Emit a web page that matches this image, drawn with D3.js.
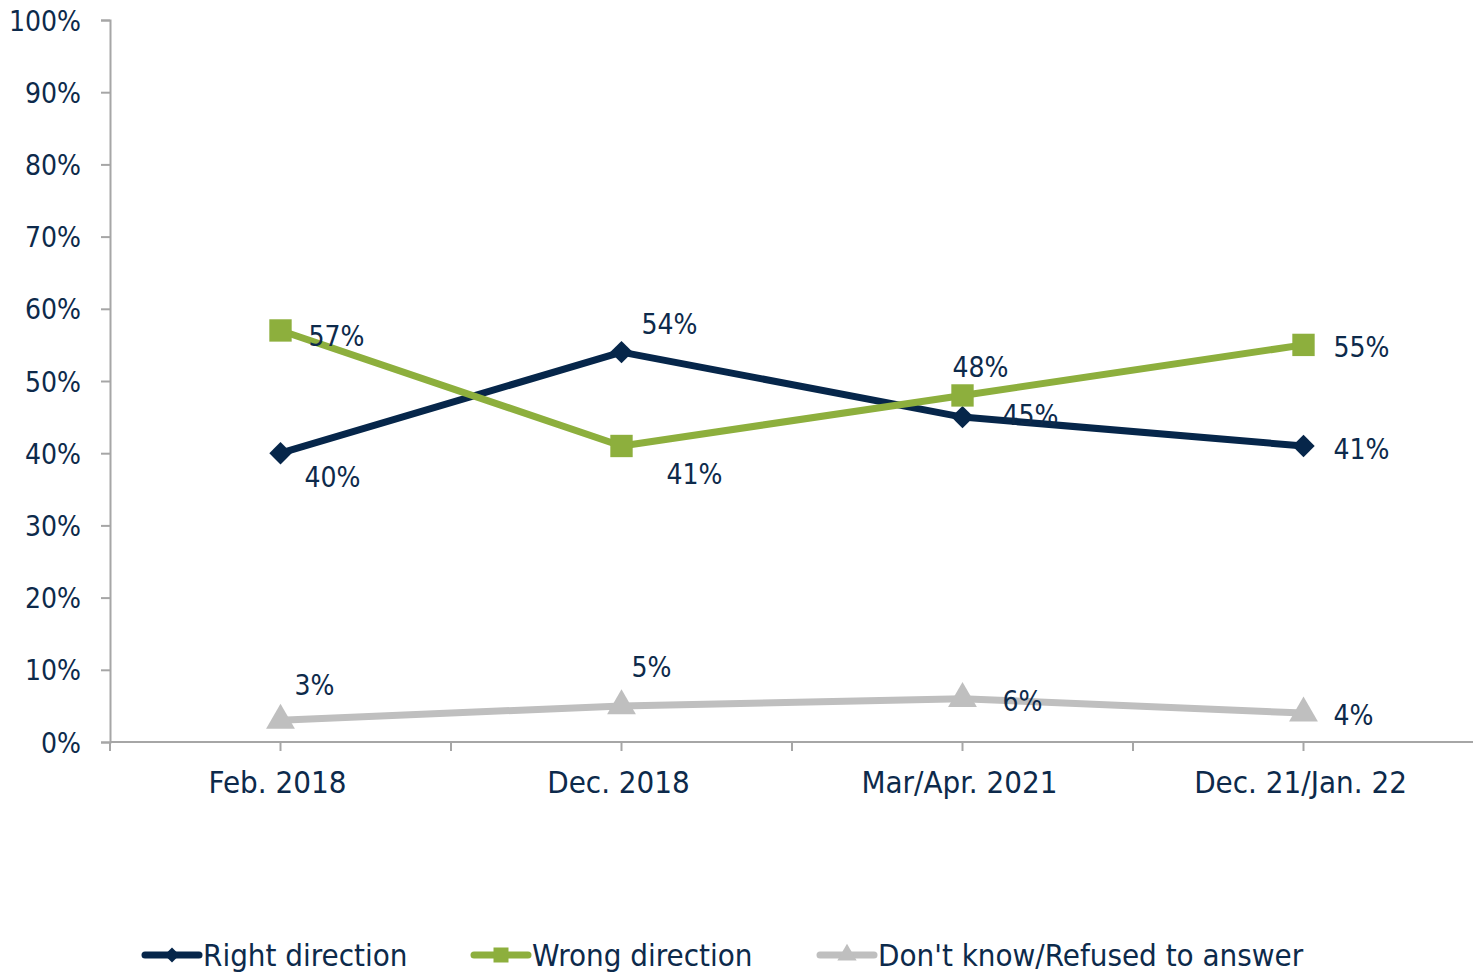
<!DOCTYPE html>
<html><head><meta charset="utf-8">
<script src="https://cdn.jsdelivr.net/npm/d3@7"></script>
<style>
body{margin:0;background:#fff;}
text{font-family:"DejaVu Sans Condensed","DejaVu Sans",sans-serif;fill:#0d2a4b;}
</style></head>
<body><svg id="c" width="1473" height="973"></svg>
<script>
const categories = ["Feb. 2018","Dec. 2018","Mar/Apr. 2021","Dec. 21/Jan. 22"];
const rightDirection = [40,54,45,41];
const wrongDirection = [57,41,48,55];
const dontKnow = [3,5,6,4];
const yTicks = [0,10,20,30,40,50,60,70,80,90,100];
const seriesNames = ["Right direction","Wrong direction","Don't know/Refused to answer"];

const svg = d3.select("#c");
const mLeft=110, mRight=1474, mTop=20, mBottom=742;
const x = d3.scaleBand().domain(categories).range([mLeft,mRight]);
const y = d3.scaleLinear().domain([0,100]).range([mBottom,mTop]);
const axisColor="#a6a6a6";
const fs=28;
const fsBig=31;

// y axis
const ya = svg.append("g").attr("transform",`translate(${mLeft},0)`)
  .call(d3.axisLeft(y).tickValues(yTicks).tickSize(9).tickPadding(20).tickFormat(d=>d+"%"));
ya.select(".domain").attr("stroke",axisColor).attr("stroke-width",2);
ya.selectAll(".tick line").attr("stroke",axisColor).attr("stroke-width",2);
ya.selectAll("text").attr("font-size",fs).attr("fill","#0d2a4b").attr("dy","0.36em").attr("font-family",null);

// x axis line
svg.append("line").attr("x1",mLeft).attr("x2",mRight).attr("y1",mBottom).attr("y2",mBottom).attr("stroke",axisColor).attr("stroke-width",2);
const half = x.bandwidth()/2;
const xTickPos = d3.range(0,categories.length*2+1).map(i=>mLeft+i*half);
svg.selectAll(".xt").data(xTickPos).enter().append("line")
  .attr("x1",d=>d).attr("x2",d=>d).attr("y1",mBottom).attr("y2",mBottom+9)
  .attr("stroke",axisColor).attr("stroke-width",2);
svg.selectAll(".xl").data(categories).enter().append("text")
  .attr("x",d=>x(d)+half-3).attr("y",782).attr("dy","0.36em").attr("text-anchor","middle")
  .attr("font-size",fsBig).text(d=>d);

const cx = i => x(categories[i])+half;
const series = [
  {vals:rightDirection,color:"#06264a",sym:d3.symbolDiamond2,size:320,
   off:[[24,24],[20,-28],[40,-2],[30,3]]},
  {vals:wrongDirection,color:"#8daf3d",sym:d3.symbolSquare,size:500,
   off:[[28,5],[45,28],[-10,-29],[30,2]]},
  {vals:dontKnow,color:"#bfbfbf",sym:d3.symbolTriangle,size:360,
   off:[[14,-35],[10,-39],[40,2],[30,2]]}
];
const line = d3.line().x((d,i)=>cx(i)).y(d=>y(d));
series.forEach(s=>{
  svg.append("path").attr("d",line(s.vals)).attr("fill","none").attr("stroke",s.color)
    .attr("stroke-width",7).attr("stroke-linejoin","round");
});
series.forEach(s=>{
  s.vals.forEach((v,i)=>{
    svg.append("path").attr("d",d3.symbol().type(s.sym).size(s.size)())
      .attr("transform",`translate(${cx(i)},${y(v)})`).attr("fill",s.color);
  });
});
series.forEach(s=>{
  s.vals.forEach((v,i)=>{
    svg.append("text").attr("x",cx(i)+s.off[i][0]).attr("y",y(v)+s.off[i][1])
      .attr("dy","0.36em").attr("font-size",fs).text(v+"%");
  });
});

// legend
const legX=[143,472,818];
series.forEach((s,k)=>{
  const g=svg.append("g").attr("transform",`translate(${legX[k]},955)`);
  g.append("line").attr("x1",2).attr("x2",56).attr("stroke",s.color).attr("stroke-width",7).attr("stroke-linecap","round");
  g.append("path").attr("d",d3.symbol().type(s.sym).size(s.size*0.45)()).attr("transform","translate(29,0)").attr("fill",s.color);
  g.append("text").attr("x",60).attr("dy","0.36em").attr("font-size",fsBig).text(seriesNames[k]);
});
</script></body></html>
